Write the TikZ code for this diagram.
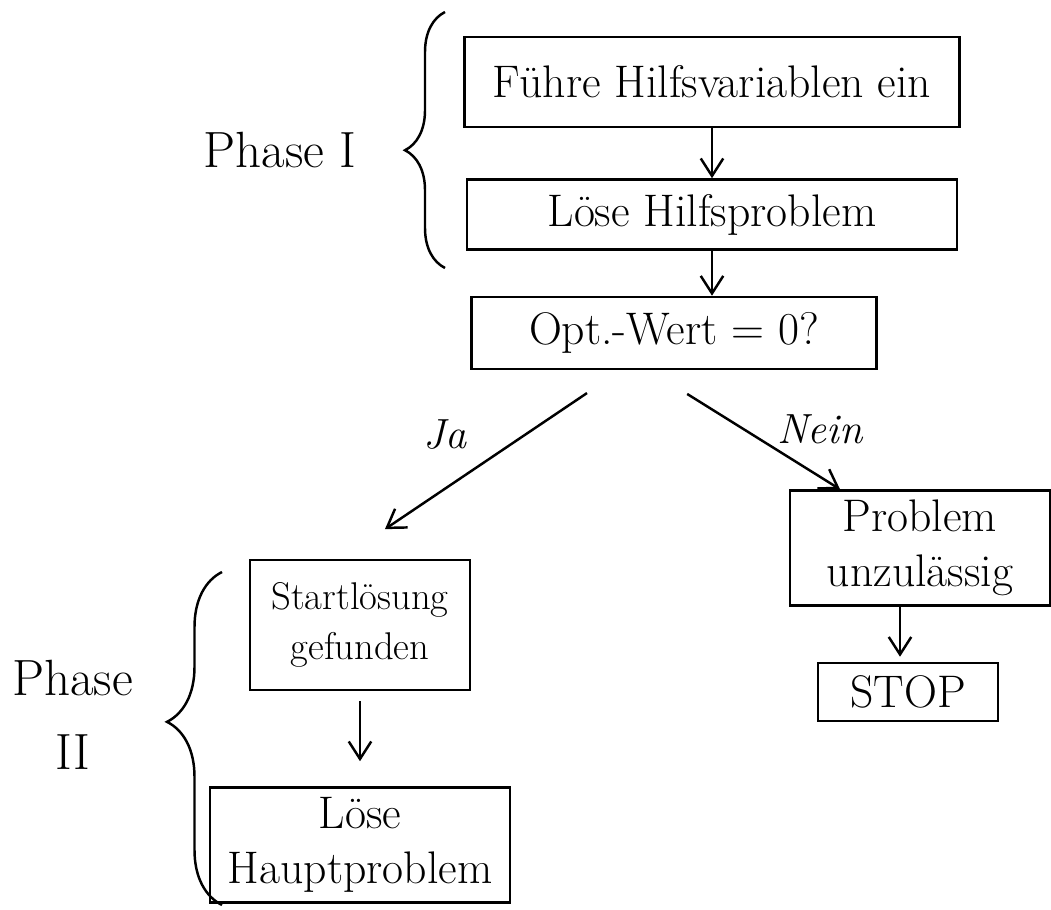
\documentclass[tikz,border=0pt]{standalone}
\usepackage{tikz}
\usetikzlibrary{positioning, arrows.meta, calc, decorations.pathreplacing}

\begin{document}
\begin{tikzpicture}[
  >={Straight Barb[length=3.5mm, width=4.5mm]},
  every node/.style={font=\fontsize{26}{31}\selectfont},
  box/.style   = {draw, line width=1.4pt, align=center, inner sep=4pt},
  arr/.style   = {->, line width=1.4pt},
  brc/.style   = {decorate, line width=1.4pt, decoration={brace, amplitude=#1}},
  phase/.style = {font=\fontsize{29}{42}\selectfont, align=center},
  lbl/.style   = {font=\fontsize{24}{28}\selectfont\itshape},
]
  \useasboundingbox (0,0) rectangle (21.02,18.18);
  % phase I
  \node[box, minimum width=9.9cm, minimum height=1.8cm] (fuehre) at (14.24,16.54) {Führe Hilfsvariablen ein};
  \node[box, minimum width=9.8cm, minimum height=1.4cm, below=1.0cm of fuehre] (loese) {Löse Hilfsproblem};
  \node[box, minimum width=8.1cm, minimum height=1.44cm, below=0.9cm of loese, xshift=-0.76cm] (opt) {Opt.-Wert = 0?};
  % branches
  \node[box, minimum width=4.4cm, minimum height=2.6cm, font=\fontsize{22}{28}\selectfont] (start) at (7.2,5.68) {Startlösung\\gefunden};
  \node[box, minimum width=6.0cm, minimum height=2.3cm, below=1.9cm of start] (haupt) {Löse\\Hauptproblem};
  \node[box, minimum width=5.2cm, minimum height=2.3cm] (problem) at (18.4,7.22) {Problem\\unzulässig};
  \node[box, minimum width=3.6cm, minimum height=1.16cm, below=1.1cm of problem, xshift=-0.24cm] (stop) {STOP};
  \draw[arr] (fuehre) -- (loese);
  \draw[arr] (loese.south) -- (loese.south |- opt.north);
  \draw[arr, shorten <=0.82cm, shorten >=1.06cm] ([xshift=-1.06cm]opt.south) -- ([xshift=-0.38cm]start.north);
  \draw[arr, shorten <=0.9cm] ([xshift=-0.5cm]opt.south) -- ([xshift=-1.6cm]problem.north);
  \draw[arr, shorten <=0.2cm, shorten >=0.5cm] (start.south) -- (start.south |- haupt.north);
  \draw[arr, shorten >=0.1cm] ([xshift=-0.4cm]problem.south) -- ([xshift=-0.4cm]problem.south |- stop.north);
  \node[lbl] (ja)   at (8.9,9.48)  {Ja};
  \node[lbl] (nein) at (16.4,9.6) {Nein};
  % braces
  \draw[brc=0.8cm, decoration={aspect=0.46}] (8.9,12.82) -- (8.9,17.94);
  \draw[brc=1.1cm, decoration={aspect=0.55}] (4.44,0.08) -- (4.44,6.74);
  \node[phase] (ph1) at (5.6,15.18) {Phase I};
  \node[phase] (ph2) at (1.45,3.88)  {Phase\\II};
\end{tikzpicture}
\end{document}
